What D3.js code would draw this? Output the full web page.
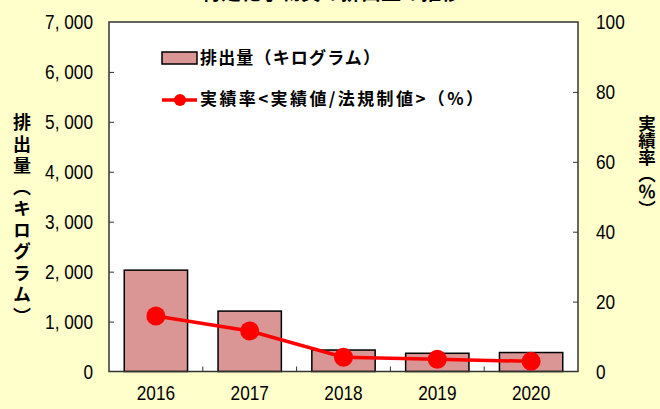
<!DOCTYPE html>
<html><head><meta charset="utf-8">
<script src="https://cdn.jsdelivr.net/npm/d3@7"></script>
<style>
html,body{margin:0;padding:0;background:#FFFFCC;}
svg{display:block;}
.vt{writing-mode:vertical-rl;text-orientation:upright;}
</style></head>
<body>
<svg id="chart" width="660" height="409"></svg>
<script>
const years = ["2016","2017","2018","2019","2020"];
const emissions = [2030, 1210, 430, 365, 380];
const rates = [15.9, 11.6, 4.1, 3.5, 2.9];
const leftTicks = [0,1000,2000,3000,4000,5000,6000,7000];
const rightTicks = [0,20,40,60,80,100];
const titleText = "特定化学物質の排出量の推移";
const leftTitle = "排出量（キログラム）";
const rightTitle = "実績率（％）";
const legendBar = "排出量（キログラム）";
const legendLine = "実績率<実績値/法規制値>（%）";

const W = 660, H = 409;
const m = {left:109, right:82, top:22, bottom:37.5};
const pw = W - m.left - m.right, ph = H - m.top - m.bottom;
const cjk = "'Noto Sans CJK JP', 'Noto Sans', sans-serif";
const num = "'Liberation Sans', 'DejaVu Sans', sans-serif";

const svg = d3.select("#chart");
svg.append("rect").attr("width",W).attr("height",H).attr("fill","#FFFFCC");

svg.append("text").attr("x",331).attr("y",-0.5)
  .attr("text-anchor","middle").attr("font-family",cjk).attr("font-weight","bold")
  .attr("font-size",20).attr("fill","#000").text(titleText);

const g = svg.append("g").attr("transform",`translate(${m.left},${m.top})`);
g.append("rect").attr("width",pw).attr("height",ph).attr("fill","#fff");

const x = d3.scaleBand().domain(years).range([0,pw]).paddingInner(0.325).paddingOuter(0.1625);
const yL = d3.scaleLinear().domain([0,7000]).range([ph,0]);
const yR = d3.scaleLinear().domain([0,100]).range([ph,0]);

// bars
g.selectAll("rect.bar").data(years).enter().append("rect").attr("class","bar")
  .attr("x",d=>x(d)).attr("width",x.bandwidth())
  .attr("y",(d,i)=>yL(emissions[i])).attr("height",(d,i)=>ph-yL(emissions[i]))
  .attr("fill","#D99694").attr("stroke","#000").attr("stroke-width",1.5);

// frame
g.append("rect").attr("width",pw).attr("height",ph).attr("fill","none")
  .attr("stroke","#333").attr("stroke-width",1.5);

// axes
const fmt = d => d3.format(",")(d).replace(",", ", ");
const ax = g.append("g").call(d3.axisLeft(yL).tickValues(leftTicks).tickSize(-5).tickPadding(16).tickFormat(fmt));
const axR = g.append("g").attr("transform",`translate(${pw},0)`)
  .call(d3.axisRight(yR).tickValues(rightTicks).tickSize(-5).tickPadding(18).tickFormat(d3.format("d")));
const axB = g.append("g").attr("transform",`translate(0,${ph})`)
  .call(d3.axisBottom(x).tickSize(0).tickPadding(14));
[ax,axR,axB].forEach(a=>{
  a.select(".domain").remove();
  a.selectAll("line").attr("stroke","#333").attr("stroke-width",1);
  a.selectAll("text").attr("font-family",num).attr("font-size",20.5).attr("fill","#000")
    .each(function(){
      const L = this.getComputedTextLength();
      d3.select(this).attr("textLength", L*0.84).attr("lengthAdjust","spacingAndGlyphs");
    });
});
ax.selectAll(".tick").filter(d=>d===0||d===7000).select("line").remove();
axR.selectAll(".tick").filter(d=>d===0||d===100).select("line").remove();

// category boundary ticks
const step = x.step();
g.selectAll("line.bt").data(years.slice(1)).enter().append("line")
  .attr("x1",d=>x(d)-step*x.paddingInner()/2).attr("x2",d=>x(d)-step*x.paddingInner()/2)
  .attr("y1",ph).attr("y2",ph-5).attr("stroke","#333").attr("stroke-width",1);

// line
const cx = d => x(d)+x.bandwidth()/2;
const line = d3.line().x((d,i)=>cx(years[i])).y(d=>yR(d));
g.append("path").datum(rates).attr("d",line).attr("fill","none")
  .attr("stroke","#FF0000").attr("stroke-width",3.5);
g.selectAll("circle.pt").data(rates).enter().append("circle")
  .attr("cx",(d,i)=>cx(years[i])).attr("cy",d=>yR(d)).attr("r",9.5).attr("fill","#FF0000");

// legend
const lg = svg.append("g");
lg.append("rect").attr("x",162).attr("y",52).attr("width",35).attr("height",12)
  .attr("fill","#D99694").attr("stroke","#000").attr("stroke-width",1.5);
lg.append("text").attr("x",200).attr("y",63.5).attr("font-family",cjk).attr("font-weight","bold")
  .attr("font-size",17).attr("textLength",180).attr("lengthAdjust","spacing").attr("fill","#000").text(legendBar);
lg.append("line").attr("x1",162).attr("x2",197).attr("y1",100).attr("y2",100)
  .attr("stroke","#FF0000").attr("stroke-width",3.5);
lg.append("circle").attr("cx",180).attr("cy",100).attr("r",6).attr("fill","#FF0000");
lg.append("text").attr("x",200).attr("y",105).attr("font-family",cjk).attr("font-weight","bold")
  .attr("font-size",17).attr("textLength",283).attr("lengthAdjust","spacing").attr("fill","#000").text(legendLine);

// axis titles (vertical)
svg.append("text").attr("class","vt").attr("x",22).attr("y",221).attr("text-anchor","middle")
  .attr("font-family",cjk).attr("font-weight","bold")
  .attr("font-size",18).attr("letter-spacing",3.5).attr("fill","#000").text(leftTitle);
svg.append("text").attr("class","vt").attr("x",647).attr("y",166).attr("text-anchor","middle")
  .attr("font-family",cjk).attr("font-weight","bold")
  .attr("font-size",17.5).attr("letter-spacing",-0.5).attr("fill","#000").text(rightTitle);
</script>
</body></html>
